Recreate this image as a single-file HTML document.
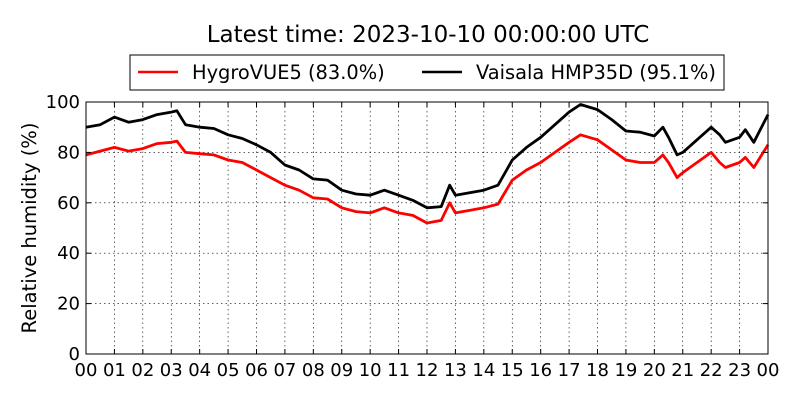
<!DOCTYPE html>
<html><head><meta charset="utf-8"><style>
body{margin:0;background:#fff;}
svg text{font-family:"DejaVu Sans","Liberation Sans",sans-serif;}
</style></head><body>
<svg width="800" height="400" xmlns="http://www.w3.org/2000/svg">
<g id="grid"></g>
<g id="series"></g>
<rect x="86" y="102" width="682" height="252" fill="none" stroke="#000" stroke-width="1"/>
<g id="ticks"></g>
<text x="428" y="42" font-size="23" text-anchor="middle">Latest time: 2023-10-10 00:00:00 UTC</text>
<text transform="translate(36,228) rotate(-90)" font-size="19.5" text-anchor="middle">Relative humidity (%)</text>
<g>
<rect x="130" y="55" width="594" height="35" fill="#fff" stroke="#000"/>
<line x1="138" y1="72" x2="178" y2="72" stroke="#f00" stroke-width="2.5"/>
<text x="192" y="79" font-size="19.4">HygroVUE5 (83.0%)</text>
<line x1="422" y1="72" x2="462" y2="72" stroke="#000" stroke-width="2.5"/>
<text x="476" y="79" font-size="19.4">Vaisala HMP35D (95.1%)</text>
</g>
</svg>
<script>
const hours=[0,0.5,1,1.5,2,2.5,3,3.2,3.5,4,4.5,5,5.5,6,6.5,7,7.5,8,8.5,9,9.5,10,10.5,11,11.5,12,12.5,12.8,13,13.5,14,14.5,15,15.5,16,16.5,17,17.4,18,18.5,19,19.5,20,20.3,20.5,20.8,21,21.5,22,22.3,22.5,23,23.2,23.5,24];
const vaisala=[90,91,94,92,93,95,96,96.5,91,90,89.5,87,85.5,83,80,75,73,69.5,69,65,63.5,63,65,63,61,58,58.5,67,63,64,65,67,77,82,86,91,96,99,97,93,88.5,88,86.5,90,86,79,80,85,90,87,84,86,89,84,95];
const hygrovue=[79,80.5,82,80.5,81.5,83.5,84,84.5,80,79.5,79,77,76,73,70,67,65,62,61.5,58,56.5,56,58,56,55,52,53,60,56,57,58,59.5,69,73,76,80,84,87,85,81,77,76,76,79,76,70,72,76,80,76,74,76,78,74,83];
const xTicks=["00","01","02","03","04","05","06","07","08","09","10","11","12","13","14","15","16","17","18","19","20","21","22","23","00"];
const yTicks=[0,20,40,60,80,100];
const NS="http://www.w3.org/2000/svg";
const X=h=>86+h*(682/24), Y=v=>354-v*2.52;
const grid=document.getElementById('grid'),ticks=document.getElementById('ticks'),ser=document.getElementById('series');
function mk(t,a,p){const e=document.createElementNS(NS,t);for(const k in a)e.setAttribute(k,a[k]);p.appendChild(e);return e;}
xTicks.forEach((l,i)=>{const x=X(i);
 if(i>0&&i<24){const g=mk('line',{x1:x,x2:x,y1:102,y2:354,stroke:'#000','stroke-width':0.6,'stroke-dasharray':'1.5,3'},grid);
 
 }
 mk('line',{x1:x,x2:x,y1:354,y2:349,stroke:'#000'},ticks);mk('line',{x1:x,x2:x,y1:102,y2:107,stroke:'#000'},ticks);
 const t=mk('text',{x:x,y:376,'font-size':18,'text-anchor':'middle'},ticks);t.textContent=l;
 
 });
yTicks.forEach(v=>{const y=Y(v);
 if(v>0&&v<100){const g=mk('line',{x1:86,x2:768,y1:y,y2:y,stroke:'#000','stroke-width':0.6,'stroke-dasharray':'1.5,3'},grid);
 
 }
 mk('line',{x1:86,x2:91,y1:y,y2:y,stroke:'#000'},ticks);mk('line',{x1:763,x2:768,y1:y,y2:y,stroke:'#000'},ticks);
 const t=mk('text',{x:80,y:y+6,'font-size':18,'text-anchor':'end'},ticks);t.textContent=v;
 
 });
function line(vals,col,name){const d=vals.map((v,i)=>(i?'L':'M')+X(hours[i]).toFixed(1)+','+Y(v).toFixed(1)).join('');
 const p=mk('path',{d:d,fill:'none',stroke:col,'stroke-width':2.8,'stroke-linejoin':'round'},ser);
 
 }
line(hygrovue,'#f00','hygrovue-line');
line(vaisala,'#000','vaisala-line');
</script>
</body></html>
